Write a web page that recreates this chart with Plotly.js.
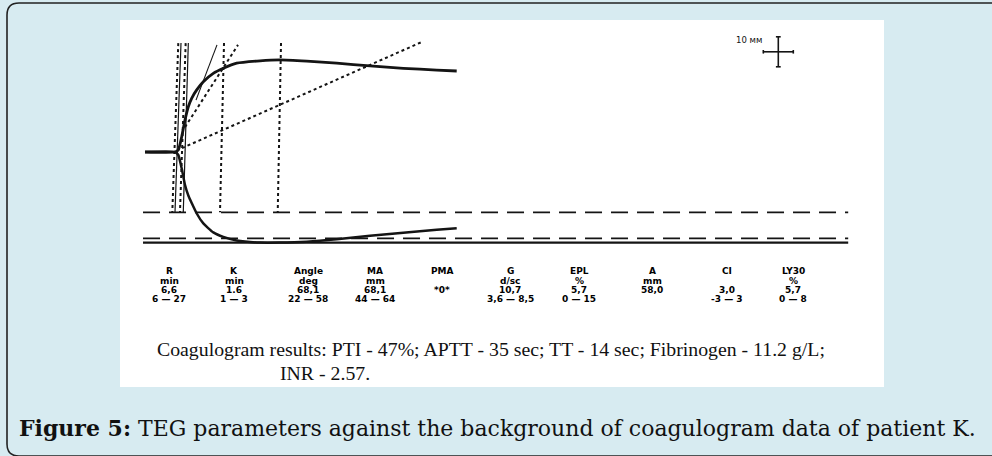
<!DOCTYPE html>
<html>
<head>
<meta charset="utf-8">
<script src="https://cdn.plot.ly/plotly-3.0.1.min.js"></script>
<style>
html,body{margin:0;padding:0;background:#d7ebf1;}
#chart{width:992px;height:456px;}
</style>
</head>
<body>
<div id="chart"></div>
<script>
// ---- DATA (time in minutes, amplitude in mm) ----
const timeMin  = [1.6, 6.6, 7.15, 7.72, 8.27, 8.82, 9.38, 10.22, 11.32, 12.98, 14.65, 16.88, 20.77, 24.1, 28.55, 33.55, 39.1, 44.65, 50.22, 53.55];
const upperAmp = [0, 0, 0.7, 5.1, 10.7, 15.1, 17.9, 20.7, 23.4, 26.2, 27.9, 29.6, 30.4, 30.7, 30.3, 29.6, 28.7, 27.9, 27.3, 27.0];
const lowerAmp = [0, 0, 1.0, 5.5, 11.0, 14.5, 17.0, 20.5, 23.8, 26.8, 28.3, 29.5, 30.2, 30.2, 29.9, 29.1, 27.9, 26.9, 25.9, 25.4];

const refLevels = [-20.1, -28.8, -30.2];
const refStart = 1.27, refEnd = 118.8;

const markerTimeTop    = [7.15, 7.6, 8.38, 8.82, 14.77, 24.27];
const markerTimeBottom = [6.15, 6.6, 7.43, 7.98, 14.1, 23.72];
const markerAmpTop = 36.3, markerAmpBottom = -20.1;

const tangentT0 = [10.1, 8.27, 7.77];
const tangentA0 = [17.3, 8.3, 1.3];
const tangentT1 = [13.6, 17.1, 47.77];
const tangentA1 = [35.7, 35.7, 36.7];

const scaleCenterT = 107.15, scaleCenterA = 33.4, scaleMm = 10; // 10 mm cross
const mmPerMin = 2;

const paramNames  = ['R', 'K', 'Angle', 'MA', 'PMA', 'G', 'EPL', 'A', 'CI', 'LY30'];
const paramUnits  = ['min', 'min', 'deg', 'mm', '', 'd/sc', '%', 'mm', '', '%'];
const paramValues = ['6,6', '1.6', '68,1', '68,1', '*0*', '10,7', '5,7', '58,0', '3,0', '5,7'];
const paramRanges = ['6 — 27', '1 — 3', '22 — 58', '44 — 64', '', '3,6 — 8,5', '0 — 15', '', '-3 — 3', '0 — 8'];

const coagLine1 = 'Coagulogram results: PTI - 47%; APTT - 35 sec; TT - 14 sec; Fibrinogen - 11.2 g/L;';
const coagLine2 = 'INR - 2.57.';
const captionBold = 'Figure 5:';
const captionText = ' TEG parameters against the background of coagulogram data of patient K.';

// ---- LAYOUT HELPERS ----
const W = 992, H = 456;
const px = x => x / W;
const py = y => 1 - y / H;
const X0 = 135.4, PXMIN = 6;     // pixel of t=0, pixels per minute
const Y0 = 152, PXMM = 3;        // pixel of baseline, pixels per mm

const traces = [];
const ink = '#141414';

// reference lines
const refStyles = [{dash: '17px,9px', width: 1.8}, {dash: '17px,9px', width: 1.8}, {dash: 'solid', width: 2.2}];
refLevels.forEach((lv, i) => {
  traces.push({x: [refStart, refEnd], y: [lv, lv], mode: 'lines', line: {color: ink, width: refStyles[i].width, dash: refStyles[i].dash}, hoverinfo: 'skip'});
});

// vertical marker lines
const markerDash = ['dot', 'solid', 'dot', 'solid', 'dot', 'dot'];
markerTimeTop.forEach((t, i) => {
  traces.push({x: [t, markerTimeBottom[i]], y: [markerAmpTop, markerAmpBottom], mode: 'lines',
    line: {color: ink, width: markerDash[i] === 'dot' ? 2 : 1.2, dash: markerDash[i]}, hoverinfo: 'skip'});
});

// tangent lines
const tanStyle = [{dash: 'solid', width: 1.1}, {dash: 'dot', width: 2}, {dash: 'dot', width: 2}];
tangentT0.forEach((t, i) => {
  traces.push({x: [t, tangentT1[i]], y: [tangentA0[i], tangentA1[i]], mode: 'lines',
    line: {color: ink, width: tanStyle[i].width, dash: tanStyle[i].dash}, hoverinfo: 'skip'});
});

// TEG tracing (upper and lower)
traces.push({x: timeMin, y: upperAmp, mode: 'lines', line: {color: ink, width: 2.8, shape: 'spline', smoothing: 0.5}, hoverinfo: 'skip'});
traces.push({x: timeMin, y: lowerAmp.map(v => -v), mode: 'lines', line: {color: ink, width: 2.5, shape: 'spline', smoothing: 0.5}, hoverinfo: 'skip'});

// scale cross (10 mm in both directions)
const halfT = scaleMm / mmPerMin / 2, halfA = scaleMm / 2;
traces.push({x: [scaleCenterT - halfT, scaleCenterT + halfT], y: [scaleCenterA, scaleCenterA], mode: 'lines', line: {color: ink, width: 1.6}, hoverinfo: 'skip'});
traces.push({x: [scaleCenterT, scaleCenterT], y: [scaleCenterA - halfA, scaleCenterA + halfA], mode: 'lines', line: {color: ink, width: 1.6}, hoverinfo: 'skip'});
[-halfT, halfT].forEach(d => traces.push({x: [scaleCenterT + d, scaleCenterT + d], y: [scaleCenterA - 0.6, scaleCenterA + 0.6], mode: 'lines', line: {color: ink, width: 1.6}, hoverinfo: 'skip'}));
[-halfA, halfA].forEach(d => traces.push({x: [scaleCenterT - 0.4, scaleCenterT + 0.4], y: [scaleCenterA + d, scaleCenterA + d], mode: 'lines', line: {color: ink, width: 1.6}, hoverinfo: 'skip'}));

// ---- annotations ----
const annotations = [];
annotations.push({xref: 'x', yref: 'y', x: scaleCenterT - 2.4, y: scaleCenterA + 3.8, text: '10 мм', showarrow: false, xanchor: 'right',
  font: {family: 'DejaVu Sans', size: 8.5, color: ink}});

const colX = [169, 234, 308, 375, 442, 510, 579, 652, 727, 793];
const rowY = [271, 281, 290, 299];
const rows = [paramNames, paramUnits, paramValues, paramRanges];
rows.forEach((row, r) => row.forEach((txt, c) => {
  if (!txt) return;
  annotations.push({xref: 'paper', yref: 'paper', x: px(colX[c]), y: py(rowY[r]), text: txt, showarrow: false,
    xanchor: 'center', yanchor: 'middle', font: {family: 'DejaVu Sans', size: 9, color: '#000', weight: 'bold'}});
}));

annotations.push({xref: 'paper', yref: 'paper', x: px(155), y: py(349), text: coagLine1, showarrow: false, xanchor: 'left', yanchor: 'middle',
  font: {family: 'Liberation Serif', size: 19.8, color: '#111'}});
annotations.push({xref: 'paper', yref: 'paper', x: px(278), y: py(373), text: coagLine2, showarrow: false, xanchor: 'left', yanchor: 'middle',
  font: {family: 'Liberation Serif', size: 19.8, color: '#111'}});
annotations.push({xref: 'paper', yref: 'paper', x: px(17), y: py(428), text: '<b>' + captionBold + '</b>' + captionText, showarrow: false, xanchor: 'left', yanchor: 'middle',
  font: {family: 'DejaVu Serif', size: 22, color: '#111'}});

// ---- shapes ----
const borderPath = `M ${px(1000)},${py(3)} L ${px(19)},${py(3)} Q ${px(7)},${py(3)} ${px(7)},${py(15)} L ${px(7)},${py(444)} Q ${px(7)},${py(456)} ${px(19)},${py(456)} L ${px(1000)},${py(456)}`;
const shapes = [
  {type: 'rect', xref: 'paper', yref: 'paper', x0: px(120), x1: px(884), y0: py(387), y1: py(20), fillcolor: '#ffffff', line: {width: 0}, layer: 'below'},
  {type: 'path', xref: 'paper', yref: 'paper', path: borderPath, line: {color: '#222', width: 1.6}, layer: 'above'}
];

const layout = {
  width: W, height: H,
  margin: {l: 0, r: 0, t: 0, b: 0},
  paper_bgcolor: '#d7ebf1',
  plot_bgcolor: 'rgba(0,0,0,0)',
  showlegend: false,
  xaxis: {range: [-X0 / PXMIN, (W - X0) / PXMIN], visible: false, fixedrange: true},
  yaxis: {range: [(Y0 - H) / PXMM, Y0 / PXMM], visible: false, fixedrange: true},
  shapes: shapes,
  annotations: annotations
};

Plotly.newPlot('chart', traces, layout, {displayModeBar: false, staticPlot: true});
</script>
</body>
</html>
